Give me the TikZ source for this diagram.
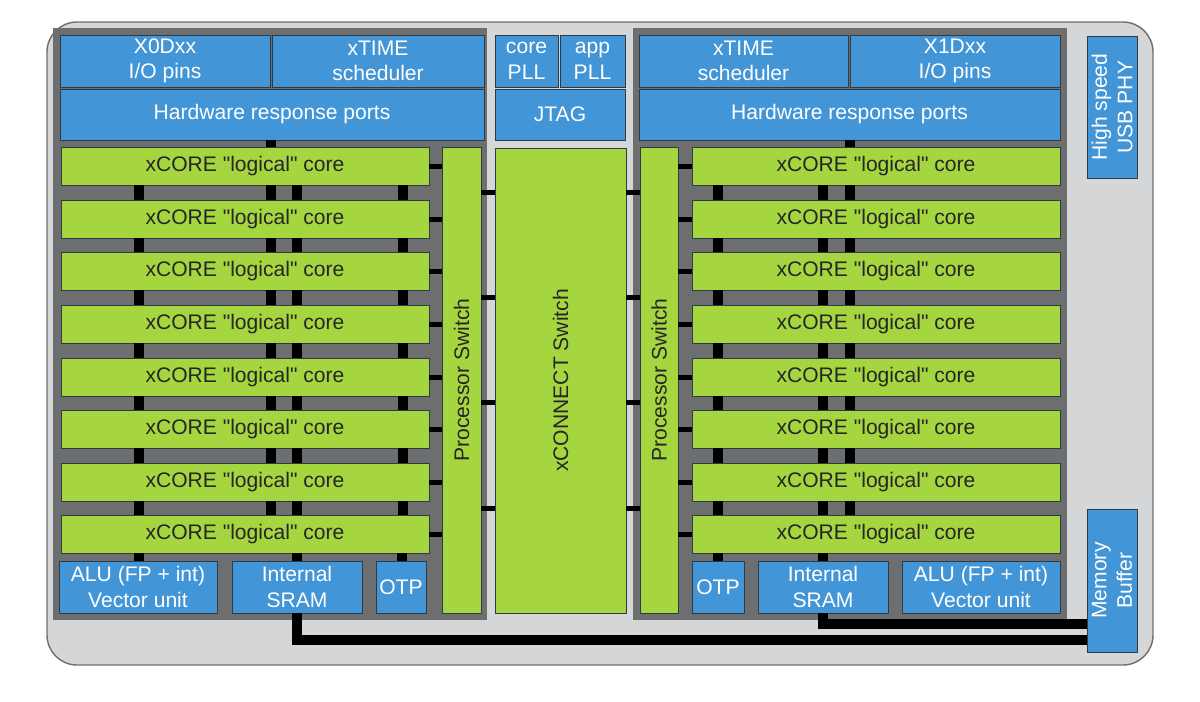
\documentclass[tikz,border=0pt]{standalone}
\usepackage{fontspec}
\setmainfont{Liberation Sans}[Ligatures=TeXOff]
\definecolor{bl}{HTML}{4295D6}
\definecolor{gr}{HTML}{A6D63F}
\definecolor{dg}{HTML}{6D6E70}
\definecolor{lg}{HTML}{D5D6D8}
\definecolor{ed}{HTML}{2E3B45}
\newcommand\bx[7]{\node[#6, minimum width={(#4-#2)*0.02cm}, minimum height={(#5-#3)*0.02cm}] (#1) at ({(#2+#4)/2},{(#3+#5)/2}) {#7};}
\newcommand\qq{\symbol{34}}
\begin{document}
\begin{tikzpicture}[x=0.02cm,y=-0.02cm,
  txt/.style={font=\fontsize{12}{14.5}\selectfont},
  blue/.style={fill=bl,draw=ed,line width=0.5pt,text=white,inner sep=0pt,align=center,txt},
  green/.style={fill=gr,draw=ed,line width=0.5pt,text=black!85,inner sep=0pt,align=center,txt},
  vlink/.style={line width=0.2cm,black},
  hlink/.style={line width=0.1cm,black},
  big/.style={line width=0.2cm,black}]
\useasboundingbox (0,0) rectangle (1200,701);
\draw[fill=lg,draw=dg,line width=0.8pt,rounded corners=0.6cm] (47,22) rectangle (1153,665);
\fill[dg] (53,28) rectangle (487,620);
\fill[dg] (633,28) rectangle (1067,620);
% left tile
\bx{lio}{60}{35}{270}{87}{blue}{X0Dxx\\I/O pins}
\bx{lxt}{272}{35}{484}{87}{blue}{xTIME\\scheduler}
\bx{lhrp}{60}{89}{484}{140}{blue}{Hardware response ports}
\bx{lps}{442}{147}{481}{613}{green}{}
\node[rotate=90,txt,text=black!85] at (lps) {Processor Switch};
\bx{lalu}{59}{561}{217}{613}{blue}{ALU (FP + int)\\Vector unit}
\bx{lsram}{232}{561}{362}{613}{blue}{Internal\\SRAM}
\bx{lotp}{376}{561}{426}{613}{blue}{OTP}
% right tile
\bx{rxt}{639}{35}{848}{87}{blue}{xTIME\\scheduler}
\bx{rio}{850}{35}{1060}{87}{blue}{X1Dxx\\I/O pins}
\bx{rhrp}{639}{89}{1060}{140}{blue}{Hardware response ports}
\bx{rps}{640}{147}{678}{613}{green}{}
\node[rotate=90,txt,text=black!85] at (rps) {Processor Switch};
\bx{rotp}{692}{561}{744}{613}{blue}{OTP}
\bx{rsram}{758}{561}{888}{613}{blue}{Internal\\SRAM}
\bx{ralu}{902}{561}{1060}{613}{blue}{ALU (FP + int)\\Vector unit}
% middle
\bx{cpll}{495}{35}{558}{87}{blue}{core\\PLL}
\bx{apll}{560}{35}{625}{87}{blue}{app\\PLL}
\bx{jtag}{495}{89}{625}{140}{blue}{JTAG}
\bx{xc}{495}{148}{626}{613}{green}{}
\node[rotate=90,txt,text=black!85] at (xc) {xCONNECT Switch};
% side
\bx{usb}{1087}{36}{1137}{178}{blue}{}
\node[rotate=90,align=center,text=white,txt] at (usb) {High speed\\USB PHY};
\bx{mem}{1087}{509}{1137}{652}{blue}{}
\node[rotate=90,align=center,text=white,txt] at (mem) {Memory\\Buffer};
% cores
\foreach \i/\y in {1/147,2/200,3/252,4/305,5/358,6/410,7/463,8/515}{
  \bx{l\i}{61}{\y}{429}{\y+38}{green}{xCORE \qq logical\qq\ core}
  \bx{r\i}{692}{\y}{1060}{\y+38}{green}{xCORE \qq logical\qq\ core}
  \draw[hlink] (l\i.east) -- (lps.west |- l\i.east);
  \draw[hlink] (r\i.west) -- (rps.east |- r\i.west);
}
\foreach \i [evaluate=\i as \j using int(\i+1)] in {1,...,7}{
  \foreach \x in {139,271,297,403}{\draw[vlink] (\x,0 |- l\i.south) -- (\x,0 |- l\j.north);}
  \foreach \x in {718,823,850}{\draw[vlink] (\x,0 |- r\i.south) -- (\x,0 |- r\j.north);}
}
\draw[vlink] (271,0 |- lhrp.south) -- (271,0 |- l1.north);
\draw[vlink] (850,0 |- rhrp.south) -- (850,0 |- r1.north);
\draw[vlink] (139,0 |- l8.south) -- (139,0 |- lalu.north);
\draw[vlink] (lsram.north) -- (lsram.north |- l8.south);
\draw[vlink] (402,0 |- l8.south) -- (402,0 |- lotp.north);
\draw[vlink] (rotp.north) -- (rotp.north |- r8.south);
\draw[vlink] (rsram.north) -- (rsram.north |- r8.south);
\foreach \y in {192,297,402,508}{
  \draw[hlink] (lps.east |- 0,\y) -- (xc.west |- 0,\y);
  \draw[hlink] (rps.west |- 0,\y) -- (xc.east |- 0,\y);
}
\draw[big] (lsram.south) |- (mem.west |- 0,640);
\draw[big] (rsram.south) |- (mem.west |- 0,624);
\end{tikzpicture}
\end{document}
